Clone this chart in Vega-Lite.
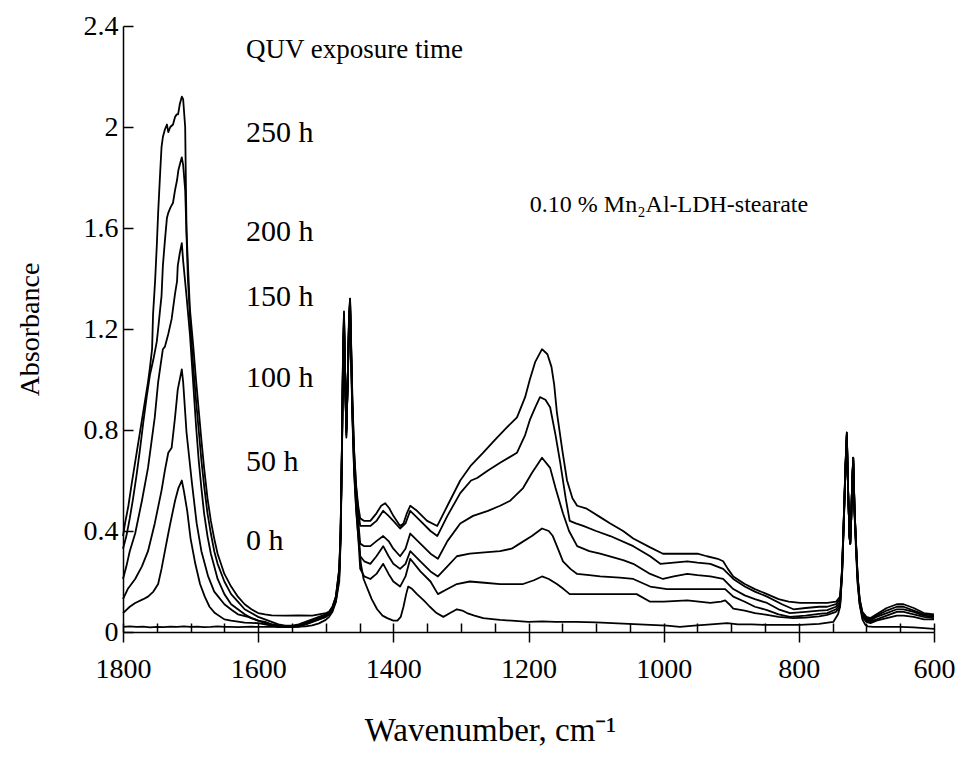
{
"$schema": "https://vega.github.io/schema/vega-lite/v6.json",
"width": 811, "height": 606,
"autosize": "none",
"padding": {"left": 123, "top": 26, "right": 28, "bottom": 132},
"background": "white",
"config": {"view": {"stroke": null}, "font": "Liberation Serif"},
"resolve": {"axis": {"x": "independent", "y": "independent"}},
"layer": [
{
"data": {"values": [
{"hours":250,"wn":1800,"abs":0.38},{"hours":250,"wn":1797,"abs":0.43},{"hours":250,"wn":1792,"abs":0.5},{"hours":250,"wn":1787,"abs":0.59},{"hours":250,"wn":1781,"abs":0.69},{"hours":250,"wn":1775,"abs":0.79},{"hours":250,"wn":1769,"abs":0.89},{"hours":250,"wn":1763,"abs":0.99},{"hours":250,"wn":1760,"abs":1.05},{"hours":250,"wn":1757,"abs":1.12},{"hours":250,"wn":1755.5,"abs":1.26},{"hours":250,"wn":1752.5,"abs":1.39},{"hours":250,"wn":1750,"abs":1.53},{"hours":250,"wn":1748,"abs":1.66},{"hours":250,"wn":1745,"abs":1.82},{"hours":250,"wn":1743,"abs":1.92},{"hours":250,"wn":1741,"abs":1.96},{"hours":250,"wn":1738,"abs":1.99},{"hours":250,"wn":1735,"abs":2.01},{"hours":250,"wn":1733,"abs":1.98},{"hours":250,"wn":1730,"abs":2.0},{"hours":250,"wn":1726,"abs":2.01},{"hours":250,"wn":1723,"abs":2.04},{"hours":250,"wn":1720.5,"abs":2.05},{"hours":250,"wn":1718.5,"abs":2.05},{"hours":250,"wn":1716,"abs":2.09},{"hours":250,"wn":1713,"abs":2.12},{"hours":250,"wn":1711,"abs":2.11},{"hours":250,"wn":1708,"abs":2.0},{"hours":250,"wn":1707,"abs":1.79},{"hours":250,"wn":1706,"abs":1.59},{"hours":250,"wn":1704,"abs":1.46},{"hours":250,"wn":1701,"abs":1.28},{"hours":250,"wn":1696,"abs":1.13},{"hours":250,"wn":1692,"abs":1.0},{"hours":250,"wn":1688,"abs":0.88},{"hours":250,"wn":1684,"abs":0.76},{"hours":250,"wn":1680,"abs":0.65},{"hours":250,"wn":1675,"abs":0.53},{"hours":250,"wn":1670,"abs":0.44},{"hours":250,"wn":1665,"abs":0.37},{"hours":250,"wn":1660,"abs":0.31},{"hours":250,"wn":1650,"abs":0.23},{"hours":250,"wn":1640,"abs":0.18},{"hours":250,"wn":1630,"abs":0.14},{"hours":250,"wn":1620,"abs":0.11},{"hours":250,"wn":1610,"abs":0.09},{"hours":250,"wn":1600,"abs":0.075},{"hours":250,"wn":1590,"abs":0.07},{"hours":250,"wn":1580,"abs":0.066},{"hours":250,"wn":1560,"abs":0.065},{"hours":250,"wn":1540,"abs":0.066},{"hours":250,"wn":1520,"abs":0.065},{"hours":250,"wn":1510,"abs":0.07},{"hours":250,"wn":1500,"abs":0.075},{"hours":250,"wn":1495,"abs":0.08},{"hours":250,"wn":1490,"abs":0.1},{"hours":250,"wn":1485,"abs":0.14},{"hours":250,"wn":1480,"abs":0.25},
{"hours":250,"wn":1478,"abs":0.4},{"hours":250,"wn":1476,"abs":0.75},{"hours":250,"wn":1474.5,"abs":1.1},{"hours":250,"wn":1473,"abs":1.27},{"hours":250,"wn":1471.5,"abs":1.05},{"hours":250,"wn":1469.5,"abs":0.78},{"hours":250,"wn":1467.5,"abs":1.0},{"hours":250,"wn":1465.5,"abs":1.25},{"hours":250,"wn":1464,"abs":1.32},{"hours":250,"wn":1462.5,"abs":1.15},{"hours":250,"wn":1460.5,"abs":0.92},{"hours":250,"wn":1458,"abs":0.72},{"hours":250,"wn":1455,"abs":0.58},
{"hours":250,"wn":1452,"abs":0.5},{"hours":250,"wn":1449,"abs":0.45},{"hours":250,"wn":1443,"abs":0.44},{"hours":250,"wn":1434,"abs":0.44},{"hours":250,"wn":1425,"abs":0.47},{"hours":250,"wn":1418,"abs":0.5},{"hours":250,"wn":1412,"abs":0.51},{"hours":250,"wn":1406,"abs":0.49},{"hours":250,"wn":1400,"abs":0.46},{"hours":250,"wn":1390,"abs":0.42},{"hours":250,"wn":1385,"abs":0.43},{"hours":250,"wn":1380,"abs":0.47},{"hours":250,"wn":1375,"abs":0.5},{"hours":250,"wn":1365,"abs":0.48},{"hours":250,"wn":1350,"abs":0.44},{"hours":250,"wn":1335,"abs":0.42},{"hours":250,"wn":1320,"abs":0.5},{"hours":250,"wn":1301,"abs":0.6},{"hours":250,"wn":1285,"abs":0.66},{"hours":250,"wn":1267,"abs":0.71},{"hours":250,"wn":1250,"abs":0.76},{"hours":250,"wn":1232,"abs":0.81},{"hours":250,"wn":1217,"abs":0.85},{"hours":250,"wn":1205,"abs":0.93},{"hours":250,"wn":1198,"abs":1.0},{"hours":250,"wn":1190,"abs":1.07},{"hours":250,"wn":1180,"abs":1.12},{"hours":250,"wn":1172,"abs":1.1},{"hours":250,"wn":1166,"abs":1.05},{"hours":250,"wn":1162,"abs":0.98},{"hours":250,"wn":1158,"abs":0.87},{"hours":250,"wn":1150,"abs":0.72},{"hours":250,"wn":1143,"abs":0.6},{"hours":250,"wn":1135,"abs":0.53},{"hours":250,"wn":1128,"abs":0.5},{"hours":250,"wn":1115,"abs":0.49},{"hours":250,"wn":1109,"abs":0.48},{"hours":250,"wn":1094,"abs":0.455},{"hours":250,"wn":1079,"abs":0.43},{"hours":250,"wn":1060,"abs":0.4},{"hours":250,"wn":1045,"abs":0.37},{"hours":250,"wn":1020,"abs":0.335},{"hours":250,"wn":1001,"abs":0.31},{"hours":250,"wn":980,"abs":0.31},{"hours":250,"wn":965,"abs":0.31},{"hours":250,"wn":950,"abs":0.31},{"hours":250,"wn":936,"abs":0.3},{"hours":250,"wn":920,"abs":0.29},{"hours":250,"wn":912,"abs":0.28},{"hours":250,"wn":905,"abs":0.25},{"hours":250,"wn":897,"abs":0.22},{"hours":250,"wn":880,"abs":0.19},{"hours":250,"wn":865,"abs":0.17},{"hours":250,"wn":847,"abs":0.15},{"hours":250,"wn":830,"abs":0.13},{"hours":250,"wn":815,"abs":0.12},{"hours":250,"wn":798,"abs":0.115},{"hours":250,"wn":780,"abs":0.115},{"hours":250,"wn":758,"abs":0.115},{"hours":250,"wn":745,"abs":0.12},{"hours":250,"wn":739,"abs":0.14},
{"hours":250,"wn":736,"abs":0.25},{"hours":250,"wn":733.5,"abs":0.45},{"hours":250,"wn":731,"abs":0.66},{"hours":250,"wn":729,"abs":0.79},{"hours":250,"wn":727,"abs":0.55},{"hours":250,"wn":725,"abs":0.38},{"hours":250,"wn":724,"abs":0.35},{"hours":250,"wn":722.5,"abs":0.45},{"hours":250,"wn":721,"abs":0.6},{"hours":250,"wn":719.5,"abs":0.69},{"hours":250,"wn":717.5,"abs":0.48},{"hours":250,"wn":715,"abs":0.33},{"hours":250,"wn":713,"abs":0.22},{"hours":250,"wn":710,"abs":0.13},
{"hours":250,"wn":706,"abs":0.08},{"hours":250,"wn":700,"abs":0.06},{"hours":250,"wn":694,"abs":0.055},{"hours":250,"wn":685,"abs":0.07},{"hours":250,"wn":670,"abs":0.095},{"hours":250,"wn":655,"abs":0.11},{"hours":250,"wn":645,"abs":0.11},{"hours":250,"wn":630,"abs":0.095},{"hours":250,"wn":615,"abs":0.075},{"hours":250,"wn":600,"abs":0.07},

{"hours":200,"wn":1800,"abs":0.33},{"hours":200,"wn":1795,"abs":0.38},{"hours":200,"wn":1790,"abs":0.45},{"hours":200,"wn":1785,"abs":0.53},{"hours":200,"wn":1780,"abs":0.62},{"hours":200,"wn":1775,"abs":0.72},{"hours":200,"wn":1770,"abs":0.83},{"hours":200,"wn":1765,"abs":0.93},{"hours":200,"wn":1760,"abs":1.02},{"hours":200,"wn":1755,"abs":1.08},{"hours":200,"wn":1750,"abs":1.15},{"hours":200,"wn":1748,"abs":1.2},{"hours":200,"wn":1745,"abs":1.28},{"hours":200,"wn":1743,"abs":1.33},{"hours":200,"wn":1741,"abs":1.45},{"hours":200,"wn":1738,"abs":1.55},{"hours":200,"wn":1735,"abs":1.64},{"hours":200,"wn":1733,"abs":1.66},{"hours":200,"wn":1730,"abs":1.68},{"hours":200,"wn":1726,"abs":1.7},{"hours":200,"wn":1723,"abs":1.75},{"hours":200,"wn":1720,"abs":1.79},{"hours":200,"wn":1718,"abs":1.83},{"hours":200,"wn":1715,"abs":1.86},{"hours":200,"wn":1713,"abs":1.88},{"hours":200,"wn":1711,"abs":1.85},{"hours":200,"wn":1708,"abs":1.75},{"hours":200,"wn":1704,"abs":1.4},{"hours":200,"wn":1700,"abs":1.2},{"hours":200,"wn":1696,"abs":1.05},{"hours":200,"wn":1692,"abs":0.92},{"hours":200,"wn":1688,"abs":0.8},{"hours":200,"wn":1684,"abs":0.68},{"hours":200,"wn":1680,"abs":0.58},{"hours":200,"wn":1675,"abs":0.47},{"hours":200,"wn":1670,"abs":0.39},{"hours":200,"wn":1665,"abs":0.32},{"hours":200,"wn":1660,"abs":0.27},{"hours":200,"wn":1650,"abs":0.2},{"hours":200,"wn":1640,"abs":0.15},{"hours":200,"wn":1630,"abs":0.12},{"hours":200,"wn":1620,"abs":0.09},{"hours":200,"wn":1610,"abs":0.075},{"hours":200,"wn":1600,"abs":0.06},{"hours":200,"wn":1590,"abs":0.05},{"hours":200,"wn":1580,"abs":0.04},{"hours":200,"wn":1570,"abs":0.03},{"hours":200,"wn":1560,"abs":0.025},{"hours":200,"wn":1550,"abs":0.025},{"hours":200,"wn":1540,"abs":0.03},{"hours":200,"wn":1530,"abs":0.04},{"hours":200,"wn":1520,"abs":0.05},{"hours":200,"wn":1510,"abs":0.06},{"hours":200,"wn":1500,"abs":0.07},{"hours":200,"wn":1495,"abs":0.08},{"hours":200,"wn":1490,"abs":0.1},{"hours":200,"wn":1485,"abs":0.14},{"hours":200,"wn":1480,"abs":0.25},
{"hours":200,"wn":1478,"abs":0.4},{"hours":200,"wn":1476,"abs":0.74},{"hours":200,"wn":1474.5,"abs":1.08},{"hours":200,"wn":1473,"abs":1.25},{"hours":200,"wn":1471.5,"abs":1.04},{"hours":200,"wn":1469.5,"abs":0.8},{"hours":200,"wn":1467.5,"abs":1.0},{"hours":200,"wn":1465.5,"abs":1.24},{"hours":200,"wn":1464,"abs":1.3},{"hours":200,"wn":1462.5,"abs":1.14},{"hours":200,"wn":1460.5,"abs":0.9},{"hours":200,"wn":1458,"abs":0.71},{"hours":200,"wn":1455,"abs":0.57},
{"hours":200,"wn":1452,"abs":0.48},{"hours":200,"wn":1449,"abs":0.42},{"hours":200,"wn":1443,"abs":0.42},{"hours":200,"wn":1434,"abs":0.42},{"hours":200,"wn":1425,"abs":0.44},{"hours":200,"wn":1415,"abs":0.48},{"hours":200,"wn":1407,"abs":0.46},{"hours":200,"wn":1400,"abs":0.44},{"hours":200,"wn":1390,"abs":0.41},{"hours":200,"wn":1382,"abs":0.43},{"hours":200,"wn":1375,"abs":0.48},{"hours":200,"wn":1360,"abs":0.44},{"hours":200,"wn":1345,"abs":0.4},{"hours":200,"wn":1335,"abs":0.38},{"hours":200,"wn":1320,"abs":0.46},{"hours":200,"wn":1301,"abs":0.55},{"hours":200,"wn":1285,"abs":0.6},{"hours":200,"wn":1276,"abs":0.61},{"hours":200,"wn":1260,"abs":0.64},{"hours":200,"wn":1242,"abs":0.67},{"hours":200,"wn":1217,"abs":0.71},{"hours":200,"wn":1205,"abs":0.78},{"hours":200,"wn":1198,"abs":0.84},{"hours":200,"wn":1190,"abs":0.89},{"hours":200,"wn":1183,"abs":0.93},{"hours":200,"wn":1175,"abs":0.92},{"hours":200,"wn":1168,"abs":0.89},{"hours":200,"wn":1160,"abs":0.78},{"hours":200,"wn":1153,"abs":0.67},{"hours":200,"wn":1145,"abs":0.53},{"hours":200,"wn":1139,"abs":0.44},{"hours":200,"wn":1130,"abs":0.43},{"hours":200,"wn":1119,"abs":0.42},{"hours":200,"wn":1100,"abs":0.4},{"hours":200,"wn":1079,"abs":0.38},{"hours":200,"wn":1045,"abs":0.34},{"hours":200,"wn":1020,"abs":0.3},{"hours":200,"wn":1005,"abs":0.27},{"hours":200,"wn":985,"abs":0.275},{"hours":200,"wn":965,"abs":0.28},{"hours":200,"wn":950,"abs":0.275},{"hours":200,"wn":931,"abs":0.27},{"hours":200,"wn":912,"abs":0.25},{"hours":200,"wn":897,"abs":0.21},{"hours":200,"wn":880,"abs":0.18},{"hours":200,"wn":865,"abs":0.16},{"hours":200,"wn":847,"abs":0.14},{"hours":200,"wn":825,"abs":0.11},{"hours":200,"wn":808,"abs":0.09},{"hours":200,"wn":790,"abs":0.095},{"hours":200,"wn":770,"abs":0.1},{"hours":200,"wn":758,"abs":0.1},{"hours":200,"wn":745,"abs":0.11},{"hours":200,"wn":739,"abs":0.13},
{"hours":200,"wn":736,"abs":0.25},{"hours":200,"wn":733.5,"abs":0.45},{"hours":200,"wn":731,"abs":0.66},{"hours":200,"wn":729,"abs":0.78},{"hours":200,"wn":727,"abs":0.55},{"hours":200,"wn":725,"abs":0.38},{"hours":200,"wn":724,"abs":0.35},{"hours":200,"wn":722.5,"abs":0.45},{"hours":200,"wn":721,"abs":0.6},{"hours":200,"wn":719.5,"abs":0.68},{"hours":200,"wn":717.5,"abs":0.48},{"hours":200,"wn":715,"abs":0.33},{"hours":200,"wn":713,"abs":0.22},{"hours":200,"wn":710,"abs":0.13},
{"hours":200,"wn":706,"abs":0.075},{"hours":200,"wn":700,"abs":0.055},{"hours":200,"wn":694,"abs":0.05},{"hours":200,"wn":685,"abs":0.065},{"hours":200,"wn":670,"abs":0.085},{"hours":200,"wn":655,"abs":0.1},{"hours":200,"wn":645,"abs":0.1},{"hours":200,"wn":630,"abs":0.085},{"hours":200,"wn":615,"abs":0.07},{"hours":200,"wn":600,"abs":0.065},

{"hours":150,"wn":1800,"abs":0.21},{"hours":150,"wn":1795,"abs":0.26},{"hours":150,"wn":1790,"abs":0.32},{"hours":150,"wn":1782,"abs":0.39},{"hours":150,"wn":1772,"abs":0.52},{"hours":150,"wn":1763,"abs":0.65},{"hours":150,"wn":1758,"abs":0.75},{"hours":150,"wn":1753,"abs":0.85},{"hours":150,"wn":1748,"abs":0.99},{"hours":150,"wn":1741,"abs":1.12},{"hours":150,"wn":1738,"abs":1.13},{"hours":150,"wn":1733,"abs":1.18},{"hours":150,"wn":1728,"abs":1.24},{"hours":150,"wn":1723,"abs":1.34},{"hours":150,"wn":1720,"abs":1.39},{"hours":150,"wn":1719,"abs":1.45},{"hours":150,"wn":1716,"abs":1.5},{"hours":150,"wn":1713,"abs":1.54},{"hours":150,"wn":1711,"abs":1.47},{"hours":150,"wn":1706,"abs":1.33},{"hours":150,"wn":1701,"abs":1.18},{"hours":150,"wn":1696,"abs":0.98},{"hours":150,"wn":1692,"abs":0.82},{"hours":150,"wn":1688,"abs":0.68},{"hours":150,"wn":1684,"abs":0.57},{"hours":150,"wn":1680,"abs":0.47},{"hours":150,"wn":1675,"abs":0.38},{"hours":150,"wn":1670,"abs":0.31},{"hours":150,"wn":1665,"abs":0.26},{"hours":150,"wn":1660,"abs":0.21},{"hours":150,"wn":1650,"abs":0.15},{"hours":150,"wn":1640,"abs":0.11},{"hours":150,"wn":1630,"abs":0.09},{"hours":150,"wn":1620,"abs":0.07},{"hours":150,"wn":1610,"abs":0.055},{"hours":150,"wn":1600,"abs":0.045},{"hours":150,"wn":1590,"abs":0.04},{"hours":150,"wn":1580,"abs":0.03},{"hours":150,"wn":1570,"abs":0.025},{"hours":150,"wn":1560,"abs":0.02},{"hours":150,"wn":1550,"abs":0.02},{"hours":150,"wn":1540,"abs":0.025},{"hours":150,"wn":1530,"abs":0.035},{"hours":150,"wn":1520,"abs":0.045},{"hours":150,"wn":1510,"abs":0.055},{"hours":150,"wn":1500,"abs":0.065},{"hours":150,"wn":1495,"abs":0.075},{"hours":150,"wn":1490,"abs":0.095},{"hours":150,"wn":1485,"abs":0.13},{"hours":150,"wn":1480,"abs":0.24},
{"hours":150,"wn":1478,"abs":0.39},{"hours":150,"wn":1476,"abs":0.73},{"hours":150,"wn":1474.5,"abs":1.07},{"hours":150,"wn":1473,"abs":1.24},{"hours":150,"wn":1471.5,"abs":1.03},{"hours":150,"wn":1469.5,"abs":0.79},{"hours":150,"wn":1467.5,"abs":1.0},{"hours":150,"wn":1465.5,"abs":1.24},{"hours":150,"wn":1464,"abs":1.31},{"hours":150,"wn":1462.5,"abs":1.13},{"hours":150,"wn":1460.5,"abs":0.88},{"hours":150,"wn":1458,"abs":0.68},{"hours":150,"wn":1455,"abs":0.53},
{"hours":150,"wn":1452,"abs":0.44},{"hours":150,"wn":1449,"abs":0.35},{"hours":150,"wn":1443,"abs":0.34},{"hours":150,"wn":1434,"abs":0.34},{"hours":150,"wn":1425,"abs":0.36},{"hours":150,"wn":1415,"abs":0.38},{"hours":150,"wn":1407,"abs":0.36},{"hours":150,"wn":1400,"abs":0.33},{"hours":150,"wn":1390,"abs":0.3},{"hours":150,"wn":1382,"abs":0.33},{"hours":150,"wn":1375,"abs":0.39},{"hours":150,"wn":1360,"abs":0.35},{"hours":150,"wn":1345,"abs":0.31},{"hours":150,"wn":1334,"abs":0.29},{"hours":150,"wn":1320,"abs":0.36},{"hours":150,"wn":1301,"abs":0.43},{"hours":150,"wn":1282,"abs":0.46},{"hours":150,"wn":1260,"abs":0.48},{"hours":150,"wn":1242,"abs":0.5},{"hours":150,"wn":1227,"abs":0.52},{"hours":150,"wn":1208,"abs":0.57},{"hours":150,"wn":1195,"abs":0.63},{"hours":150,"wn":1180,"abs":0.69},{"hours":150,"wn":1168,"abs":0.65},{"hours":150,"wn":1160,"abs":0.57},{"hours":150,"wn":1149,"abs":0.47},{"hours":150,"wn":1140,"abs":0.4},{"hours":150,"wn":1128,"abs":0.34},{"hours":150,"wn":1110,"abs":0.32},{"hours":150,"wn":1094,"abs":0.31},{"hours":150,"wn":1060,"abs":0.285},{"hours":150,"wn":1045,"abs":0.27},{"hours":150,"wn":1020,"abs":0.23},{"hours":150,"wn":1001,"abs":0.21},{"hours":150,"wn":985,"abs":0.22},{"hours":150,"wn":965,"abs":0.23},{"hours":150,"wn":950,"abs":0.225},{"hours":150,"wn":931,"abs":0.22},{"hours":150,"wn":912,"abs":0.21},{"hours":150,"wn":897,"abs":0.17},{"hours":150,"wn":880,"abs":0.145},{"hours":150,"wn":865,"abs":0.13},{"hours":150,"wn":847,"abs":0.115},{"hours":150,"wn":830,"abs":0.09},{"hours":150,"wn":813,"abs":0.075},{"hours":150,"wn":790,"abs":0.08},{"hours":150,"wn":770,"abs":0.085},{"hours":150,"wn":758,"abs":0.087},{"hours":150,"wn":745,"abs":0.1},{"hours":150,"wn":739,"abs":0.12},
{"hours":150,"wn":736,"abs":0.24},{"hours":150,"wn":733.5,"abs":0.44},{"hours":150,"wn":731,"abs":0.65},{"hours":150,"wn":729,"abs":0.78},{"hours":150,"wn":727,"abs":0.55},{"hours":150,"wn":725,"abs":0.38},{"hours":150,"wn":724,"abs":0.35},{"hours":150,"wn":722.5,"abs":0.45},{"hours":150,"wn":721,"abs":0.6},{"hours":150,"wn":719.5,"abs":0.69},{"hours":150,"wn":717.5,"abs":0.48},{"hours":150,"wn":715,"abs":0.33},{"hours":150,"wn":713,"abs":0.22},{"hours":150,"wn":710,"abs":0.12},
{"hours":150,"wn":706,"abs":0.07},{"hours":150,"wn":700,"abs":0.05},{"hours":150,"wn":694,"abs":0.045},{"hours":150,"wn":685,"abs":0.06},{"hours":150,"wn":670,"abs":0.075},{"hours":150,"wn":655,"abs":0.09},{"hours":150,"wn":645,"abs":0.09},{"hours":150,"wn":630,"abs":0.08},{"hours":150,"wn":615,"abs":0.065},{"hours":150,"wn":600,"abs":0.06},

{"hours":100,"wn":1800,"abs":0.13},{"hours":100,"wn":1793,"abs":0.17},{"hours":100,"wn":1782,"abs":0.21},{"hours":100,"wn":1772,"abs":0.26},{"hours":100,"wn":1763,"abs":0.32},{"hours":100,"wn":1753,"abs":0.43},{"hours":100,"wn":1743,"abs":0.56},{"hours":100,"wn":1738,"abs":0.64},{"hours":100,"wn":1733,"abs":0.71},{"hours":100,"wn":1728,"abs":0.73},{"hours":100,"wn":1723,"abs":0.85},{"hours":100,"wn":1719,"abs":0.96},{"hours":100,"wn":1713,"abs":1.04},{"hours":100,"wn":1711,"abs":0.99},{"hours":100,"wn":1706,"abs":0.79},{"hours":100,"wn":1698,"abs":0.59},{"hours":100,"wn":1691,"abs":0.43},{"hours":100,"wn":1684,"abs":0.32},{"hours":100,"wn":1674,"abs":0.22},{"hours":100,"wn":1665,"abs":0.16},{"hours":100,"wn":1659,"abs":0.14},{"hours":100,"wn":1650,"abs":0.11},{"hours":100,"wn":1639,"abs":0.087},{"hours":100,"wn":1630,"abs":0.07},{"hours":100,"wn":1615,"abs":0.06},{"hours":100,"wn":1600,"abs":0.045},{"hours":100,"wn":1590,"abs":0.035},{"hours":100,"wn":1580,"abs":0.03},{"hours":100,"wn":1570,"abs":0.025},{"hours":100,"wn":1560,"abs":0.02},{"hours":100,"wn":1550,"abs":0.02},{"hours":100,"wn":1540,"abs":0.025},{"hours":100,"wn":1530,"abs":0.03},{"hours":100,"wn":1520,"abs":0.04},{"hours":100,"wn":1510,"abs":0.05},{"hours":100,"wn":1500,"abs":0.06},{"hours":100,"wn":1495,"abs":0.07},{"hours":100,"wn":1490,"abs":0.09},{"hours":100,"wn":1485,"abs":0.13},{"hours":100,"wn":1480,"abs":0.23},
{"hours":100,"wn":1478,"abs":0.38},{"hours":100,"wn":1476,"abs":0.72},{"hours":100,"wn":1474.5,"abs":1.05},{"hours":100,"wn":1473,"abs":1.22},{"hours":100,"wn":1471.5,"abs":1.02},{"hours":100,"wn":1469.5,"abs":0.8},{"hours":100,"wn":1467.5,"abs":0.99},{"hours":100,"wn":1465.5,"abs":1.22},{"hours":100,"wn":1464,"abs":1.29},{"hours":100,"wn":1462.5,"abs":1.1},{"hours":100,"wn":1460.5,"abs":0.86},{"hours":100,"wn":1458,"abs":0.66},{"hours":100,"wn":1455,"abs":0.51},
{"hours":100,"wn":1452,"abs":0.42},{"hours":100,"wn":1449,"abs":0.3},{"hours":100,"wn":1443,"abs":0.28},{"hours":100,"wn":1434,"abs":0.27},{"hours":100,"wn":1425,"abs":0.3},{"hours":100,"wn":1415,"abs":0.34},{"hours":100,"wn":1407,"abs":0.3},{"hours":100,"wn":1400,"abs":0.27},{"hours":100,"wn":1390,"abs":0.25},{"hours":100,"wn":1382,"abs":0.27},{"hours":100,"wn":1375,"abs":0.32},{"hours":100,"wn":1360,"abs":0.28},{"hours":100,"wn":1345,"abs":0.24},{"hours":100,"wn":1334,"abs":0.22},{"hours":100,"wn":1320,"abs":0.26},{"hours":100,"wn":1306,"abs":0.3},{"hours":100,"wn":1287,"abs":0.31},{"hours":100,"wn":1265,"abs":0.315},{"hours":100,"wn":1242,"abs":0.32},{"hours":100,"wn":1225,"abs":0.33},{"hours":100,"wn":1213,"abs":0.35},{"hours":100,"wn":1195,"abs":0.38},{"hours":100,"wn":1180,"abs":0.41},{"hours":100,"wn":1170,"abs":0.4},{"hours":100,"wn":1164,"abs":0.38},{"hours":100,"wn":1155,"abs":0.32},{"hours":100,"wn":1149,"abs":0.28},{"hours":100,"wn":1138,"abs":0.25},{"hours":100,"wn":1128,"abs":0.23},{"hours":100,"wn":1110,"abs":0.225},{"hours":100,"wn":1094,"abs":0.22},{"hours":100,"wn":1065,"abs":0.215},{"hours":100,"wn":1045,"abs":0.21},{"hours":100,"wn":1020,"abs":0.18},{"hours":100,"wn":995,"abs":0.17},{"hours":100,"wn":970,"abs":0.17},{"hours":100,"wn":951,"abs":0.17},{"hours":100,"wn":921,"abs":0.17},{"hours":100,"wn":909,"abs":0.17},{"hours":100,"wn":903,"abs":0.155},{"hours":100,"wn":897,"abs":0.14},{"hours":100,"wn":880,"abs":0.12},{"hours":100,"wn":865,"abs":0.1},{"hours":100,"wn":847,"abs":0.087},{"hours":100,"wn":830,"abs":0.07},{"hours":100,"wn":813,"abs":0.06},{"hours":100,"wn":790,"abs":0.065},{"hours":100,"wn":770,"abs":0.072},{"hours":100,"wn":758,"abs":0.075},{"hours":100,"wn":745,"abs":0.09},{"hours":100,"wn":739,"abs":0.11},
{"hours":100,"wn":736,"abs":0.24},{"hours":100,"wn":733.5,"abs":0.44},{"hours":100,"wn":731,"abs":0.65},{"hours":100,"wn":729,"abs":0.79},{"hours":100,"wn":727,"abs":0.55},{"hours":100,"wn":725,"abs":0.38},{"hours":100,"wn":724,"abs":0.35},{"hours":100,"wn":722.5,"abs":0.45},{"hours":100,"wn":721,"abs":0.6},{"hours":100,"wn":719.5,"abs":0.69},{"hours":100,"wn":717.5,"abs":0.48},{"hours":100,"wn":715,"abs":0.33},{"hours":100,"wn":713,"abs":0.21},{"hours":100,"wn":710,"abs":0.12},
{"hours":100,"wn":706,"abs":0.065},{"hours":100,"wn":700,"abs":0.045},{"hours":100,"wn":694,"abs":0.04},{"hours":100,"wn":685,"abs":0.05},{"hours":100,"wn":670,"abs":0.065},{"hours":100,"wn":655,"abs":0.08},{"hours":100,"wn":645,"abs":0.08},{"hours":100,"wn":630,"abs":0.07},{"hours":100,"wn":615,"abs":0.06},{"hours":100,"wn":600,"abs":0.055},

{"hours":50,"wn":1800,"abs":0.075},{"hours":50,"wn":1790,"abs":0.1},{"hours":50,"wn":1782,"abs":0.115},{"hours":50,"wn":1770,"abs":0.13},{"hours":50,"wn":1763,"abs":0.14},{"hours":50,"wn":1755,"abs":0.16},{"hours":50,"wn":1748,"abs":0.19},{"hours":50,"wn":1743,"abs":0.25},{"hours":50,"wn":1738,"abs":0.32},{"hours":50,"wn":1733,"abs":0.39},{"hours":50,"wn":1730,"abs":0.43},{"hours":50,"wn":1723,"abs":0.52},{"hours":50,"wn":1718,"abs":0.57},{"hours":50,"wn":1713,"abs":0.6},{"hours":50,"wn":1710,"abs":0.56},{"hours":50,"wn":1705,"abs":0.48},{"hours":50,"wn":1700,"abs":0.37},{"hours":50,"wn":1693,"abs":0.27},{"hours":50,"wn":1686,"abs":0.19},{"hours":50,"wn":1679,"abs":0.14},{"hours":50,"wn":1672,"abs":0.1},{"hours":50,"wn":1664,"abs":0.075},{"hours":50,"wn":1650,"abs":0.05},{"hours":50,"wn":1640,"abs":0.045},{"hours":50,"wn":1620,"abs":0.037},{"hours":50,"wn":1600,"abs":0.035},{"hours":50,"wn":1590,"abs":0.03},{"hours":50,"wn":1580,"abs":0.025},{"hours":50,"wn":1570,"abs":0.02},{"hours":50,"wn":1560,"abs":0.02},{"hours":50,"wn":1550,"abs":0.02},{"hours":50,"wn":1540,"abs":0.02},{"hours":50,"wn":1530,"abs":0.03},{"hours":50,"wn":1520,"abs":0.04},{"hours":50,"wn":1510,"abs":0.05},{"hours":50,"wn":1500,"abs":0.06},{"hours":50,"wn":1495,"abs":0.07},{"hours":50,"wn":1490,"abs":0.09},{"hours":50,"wn":1485,"abs":0.12},{"hours":50,"wn":1480,"abs":0.22},
{"hours":50,"wn":1478,"abs":0.38},{"hours":50,"wn":1476,"abs":0.74},{"hours":50,"wn":1474.5,"abs":1.09},{"hours":50,"wn":1473,"abs":1.26},{"hours":50,"wn":1471.5,"abs":1.05},{"hours":50,"wn":1469.5,"abs":0.77},{"hours":50,"wn":1467.5,"abs":1.0},{"hours":50,"wn":1465.5,"abs":1.26},{"hours":50,"wn":1464,"abs":1.32},{"hours":50,"wn":1462.5,"abs":1.12},{"hours":50,"wn":1460.5,"abs":0.86},{"hours":50,"wn":1458,"abs":0.64},{"hours":50,"wn":1455,"abs":0.49},
{"hours":50,"wn":1452,"abs":0.38},{"hours":50,"wn":1449,"abs":0.25},{"hours":50,"wn":1443,"abs":0.22},{"hours":50,"wn":1434,"abs":0.21},{"hours":50,"wn":1425,"abs":0.23},{"hours":50,"wn":1415,"abs":0.27},{"hours":50,"wn":1407,"abs":0.23},{"hours":50,"wn":1400,"abs":0.2},{"hours":50,"wn":1390,"abs":0.18},{"hours":50,"wn":1382,"abs":0.22},{"hours":50,"wn":1375,"abs":0.29},{"hours":50,"wn":1360,"abs":0.24},{"hours":50,"wn":1345,"abs":0.2},{"hours":50,"wn":1334,"abs":0.15},{"hours":50,"wn":1320,"abs":0.17},{"hours":50,"wn":1306,"abs":0.19},{"hours":50,"wn":1287,"abs":0.2},{"hours":50,"wn":1265,"abs":0.195},{"hours":50,"wn":1242,"abs":0.19},{"hours":50,"wn":1208,"abs":0.19},{"hours":50,"wn":1192,"abs":0.205},{"hours":50,"wn":1180,"abs":0.22},{"hours":50,"wn":1170,"abs":0.21},{"hours":50,"wn":1158,"abs":0.19},{"hours":50,"wn":1148,"abs":0.17},{"hours":50,"wn":1139,"abs":0.15},{"hours":50,"wn":1120,"abs":0.15},{"hours":50,"wn":1094,"abs":0.15},{"hours":50,"wn":1065,"abs":0.15},{"hours":50,"wn":1040,"abs":0.15},{"hours":50,"wn":1020,"abs":0.12},{"hours":50,"wn":1000,"abs":0.12},{"hours":50,"wn":965,"abs":0.125},{"hours":50,"wn":931,"abs":0.115},{"hours":50,"wn":915,"abs":0.12},{"hours":50,"wn":909,"abs":0.125},{"hours":50,"wn":903,"abs":0.11},{"hours":50,"wn":897,"abs":0.093},{"hours":50,"wn":880,"abs":0.085},{"hours":50,"wn":865,"abs":0.075},{"hours":50,"wn":847,"abs":0.068},{"hours":50,"wn":830,"abs":0.06},{"hours":50,"wn":808,"abs":0.055},{"hours":50,"wn":790,"abs":0.057},{"hours":50,"wn":770,"abs":0.062},{"hours":50,"wn":758,"abs":0.068},{"hours":50,"wn":745,"abs":0.08},{"hours":50,"wn":739,"abs":0.1},
{"hours":50,"wn":736,"abs":0.23},{"hours":50,"wn":733.5,"abs":0.43},{"hours":50,"wn":731,"abs":0.64},{"hours":50,"wn":729,"abs":0.78},{"hours":50,"wn":727,"abs":0.55},{"hours":50,"wn":725,"abs":0.38},{"hours":50,"wn":724,"abs":0.35},{"hours":50,"wn":722.5,"abs":0.45},{"hours":50,"wn":721,"abs":0.6},{"hours":50,"wn":719.5,"abs":0.68},{"hours":50,"wn":717.5,"abs":0.47},{"hours":50,"wn":715,"abs":0.32},{"hours":50,"wn":713,"abs":0.2},{"hours":50,"wn":710,"abs":0.11},
{"hours":50,"wn":706,"abs":0.06},{"hours":50,"wn":700,"abs":0.04},{"hours":50,"wn":694,"abs":0.035},{"hours":50,"wn":685,"abs":0.045},{"hours":50,"wn":670,"abs":0.055},{"hours":50,"wn":655,"abs":0.065},{"hours":50,"wn":645,"abs":0.065},{"hours":50,"wn":630,"abs":0.06},{"hours":50,"wn":615,"abs":0.05},{"hours":50,"wn":600,"abs":0.05},

{"hours":0,"wn":1800,"abs":0.02},{"hours":0,"wn":1790,"abs":0.022},{"hours":0,"wn":1780,"abs":0.02},{"hours":0,"wn":1770,"abs":0.021},{"hours":0,"wn":1760,"abs":0.018},{"hours":0,"wn":1750,"abs":0.02},{"hours":0,"wn":1740,"abs":0.019},{"hours":0,"wn":1730,"abs":0.021},{"hours":0,"wn":1720,"abs":0.02},{"hours":0,"wn":1710,"abs":0.022},{"hours":0,"wn":1700,"abs":0.02},{"hours":0,"wn":1690,"abs":0.021},{"hours":0,"wn":1680,"abs":0.019},{"hours":0,"wn":1670,"abs":0.02},{"hours":0,"wn":1660,"abs":0.022},{"hours":0,"wn":1650,"abs":0.02},{"hours":0,"wn":1640,"abs":0.02},{"hours":0,"wn":1630,"abs":0.019},{"hours":0,"wn":1620,"abs":0.02},{"hours":0,"wn":1610,"abs":0.021},{"hours":0,"wn":1600,"abs":0.02},{"hours":0,"wn":1590,"abs":0.02},{"hours":0,"wn":1580,"abs":0.021},{"hours":0,"wn":1570,"abs":0.019},{"hours":0,"wn":1560,"abs":0.02},{"hours":0,"wn":1550,"abs":0.02},{"hours":0,"wn":1540,"abs":0.021},{"hours":0,"wn":1530,"abs":0.022},{"hours":0,"wn":1520,"abs":0.026},{"hours":0,"wn":1510,"abs":0.034},{"hours":0,"wn":1500,"abs":0.048},{"hours":0,"wn":1495,"abs":0.06},{"hours":0,"wn":1490,"abs":0.08},{"hours":0,"wn":1485,"abs":0.12},{"hours":0,"wn":1480,"abs":0.2},
{"hours":0,"wn":1478,"abs":0.36},{"hours":0,"wn":1476,"abs":0.7},{"hours":0,"wn":1474.5,"abs":1.04},{"hours":0,"wn":1473,"abs":1.2},{"hours":0,"wn":1471.5,"abs":1.0},{"hours":0,"wn":1469.5,"abs":0.8},{"hours":0,"wn":1467.5,"abs":0.98},{"hours":0,"wn":1465.5,"abs":1.21},{"hours":0,"wn":1464,"abs":1.28},{"hours":0,"wn":1462.5,"abs":1.08},{"hours":0,"wn":1460.5,"abs":0.84},{"hours":0,"wn":1458,"abs":0.63},{"hours":0,"wn":1455,"abs":0.48},
{"hours":0,"wn":1452,"abs":0.38},{"hours":0,"wn":1448,"abs":0.27},{"hours":0,"wn":1444,"abs":0.21},{"hours":0,"wn":1438,"abs":0.17},{"hours":0,"wn":1432,"abs":0.13},{"hours":0,"wn":1424,"abs":0.09},{"hours":0,"wn":1416,"abs":0.065},{"hours":0,"wn":1409,"abs":0.055},{"hours":0,"wn":1400,"abs":0.045},{"hours":0,"wn":1394,"abs":0.045},{"hours":0,"wn":1389,"abs":0.06},{"hours":0,"wn":1385,"abs":0.1},{"hours":0,"wn":1381,"abs":0.15},{"hours":0,"wn":1378,"abs":0.18},{"hours":0,"wn":1372,"abs":0.17},{"hours":0,"wn":1365,"abs":0.15},{"hours":0,"wn":1355,"abs":0.125},{"hours":0,"wn":1346,"abs":0.1},{"hours":0,"wn":1336,"abs":0.075},{"hours":0,"wn":1326,"abs":0.06},{"hours":0,"wn":1316,"abs":0.075},{"hours":0,"wn":1306,"abs":0.09},{"hours":0,"wn":1298,"abs":0.085},{"hours":0,"wn":1291,"abs":0.075},{"hours":0,"wn":1280,"abs":0.065},{"hours":0,"wn":1267,"abs":0.055},{"hours":0,"wn":1250,"abs":0.05},{"hours":0,"wn":1242,"abs":0.048},{"hours":0,"wn":1225,"abs":0.045},{"hours":0,"wn":1200,"abs":0.04},{"hours":0,"wn":1180,"abs":0.042},{"hours":0,"wn":1160,"abs":0.04},{"hours":0,"wn":1130,"abs":0.04},{"hours":0,"wn":1100,"abs":0.038},{"hours":0,"wn":1060,"abs":0.033},{"hours":0,"wn":1020,"abs":0.028},{"hours":0,"wn":995,"abs":0.025},{"hours":0,"wn":976,"abs":0.02},{"hours":0,"wn":955,"abs":0.025},{"hours":0,"wn":930,"abs":0.03},{"hours":0,"wn":906,"abs":0.035},{"hours":0,"wn":890,"abs":0.03},{"hours":0,"wn":870,"abs":0.03},{"hours":0,"wn":847,"abs":0.028},{"hours":0,"wn":820,"abs":0.028},{"hours":0,"wn":798,"abs":0.028},{"hours":0,"wn":770,"abs":0.032},{"hours":0,"wn":749,"abs":0.04},{"hours":0,"wn":742,"abs":0.07},{"hours":0,"wn":739,"abs":0.1},
{"hours":0,"wn":736,"abs":0.23},{"hours":0,"wn":733.5,"abs":0.43},{"hours":0,"wn":731,"abs":0.64},{"hours":0,"wn":729,"abs":0.77},{"hours":0,"wn":727,"abs":0.55},{"hours":0,"wn":725,"abs":0.38},{"hours":0,"wn":724,"abs":0.35},{"hours":0,"wn":722.5,"abs":0.45},{"hours":0,"wn":721,"abs":0.6},{"hours":0,"wn":719.5,"abs":0.67},{"hours":0,"wn":717.5,"abs":0.46},{"hours":0,"wn":715,"abs":0.3},{"hours":0,"wn":713,"abs":0.19},{"hours":0,"wn":710,"abs":0.11},
{"hours":0,"wn":706,"abs":0.05},{"hours":0,"wn":702,"abs":0.03},{"hours":0,"wn":698,"abs":0.022},{"hours":0,"wn":690,"abs":0.02},{"hours":0,"wn":670,"abs":0.02},{"hours":0,"wn":650,"abs":0.02},{"hours":0,"wn":630,"abs":0.018},{"hours":0,"wn":615,"abs":0.015},{"hours":0,"wn":600,"abs":0.012}
]},
"mark": {"type": "line", "color": "black", "strokeWidth": 1.8, "strokeJoin": "round"},
"encoding": {
"x": {"field": "wn", "type": "quantitative",
"scale": {"domain": [600, 1800], "reverse": true, "nice": false, "zero": false},
"axis": {"values": [600,650,700,750,800,850,900,950,1000,1050,1100,1150,1200,1250,1300,1350,1400,1450,1500,1550,1600,1650,1700,1750,1800],
"format": "d", "labelExpr": "datum.value % 200 === 0 ? datum.label : ''", "labelOverlap": false,
"grid": true, "gridColor": "black", "gridWidth": 1.5, "gridOpacity": 1, "gridDash": [0, 597, 9, 2000],
"tickSize": 10, "tickWidth": 1.5, "tickColor": "black", "tickOpacity": {"condition": {"test": "datum.value % 200 === 0", "value": 1}, "value": 0},
"domainColor": "black", "domainWidth": 1.5,
"labelFont": "Liberation Serif", "labelFontSize": 28, "labelColor": "black", "labelPadding": 13, "labelFlush": false,
"title": "Wavenumber, cm⁻¹", "titleFont": "Liberation Serif", "titleFontSize": 33, "titleFontWeight": "normal", "titleColor": "black",
"titleX": 367, "titleY": 98, "titleAlign": "center", "titleBaseline": "middle", "titleAnchor": null}},
"y": {"field": "abs", "type": "quantitative",
"scale": {"domain": [0, 2.4], "nice": false, "zero": true},
"axis": {"values": [0, 0.4, 0.8, 1.2, 1.6, 2, 2.4], "format": "~g", "grid": false,
"tickSize": -10, "tickWidth": 1.5, "tickColor": "black", "domainColor": "black", "domainWidth": 1.5,
"labelFont": "Liberation Serif", "labelFontSize": 28, "labelColor": "black", "labelPadding": 15, "labelFlush": false,
"title": "Absorbance", "titleFont": "Liberation Serif", "titleFontSize": 28, "titleFontWeight": "normal", "titleColor": "black",
"titleX": -93, "titleY": 303, "titleAngle": 270, "titleAlign": "center", "titleBaseline": "middle", "titleAnchor": null}},
"detail": {"field": "hours", "type": "nominal"}
}
},
{
"data": {"values": [
{"label": "QUV exposure time", "wn": 1618, "abs": 2.305, "size": 27},
{"label": "250 h", "wn": 1618, "abs": 1.976, "size": 30},
{"label": "200 h", "wn": 1618, "abs": 1.584, "size": 30},
{"label": "150 h", "wn": 1618, "abs": 1.327, "size": 30},
{"label": "100 h", "wn": 1618, "abs": 1.006, "size": 30},
{"label": "50 h", "wn": 1618, "abs": 0.673, "size": 30},
{"label": "0 h", "wn": 1618, "abs": 0.36, "size": 30},
{"label": "0.10 % Mn₂Al-LDH-stearate", "wn": 1198, "abs": 1.69, "size": 24}
]},
"mark": {"type": "text", "align": "left", "baseline": "middle", "font": "Liberation Serif", "color": "black"},
"encoding": {
"x": {"field": "wn", "type": "quantitative", "axis": null},
"y": {"field": "abs", "type": "quantitative", "axis": null},
"text": {"field": "label"},
"size": {"field": "size", "type": "quantitative", "scale": null}
}
}
]
}
